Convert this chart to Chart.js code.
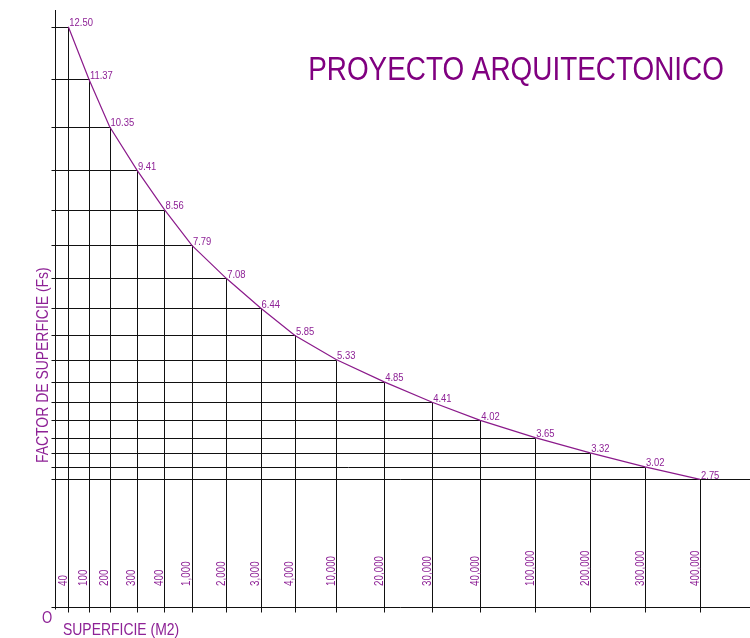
<!DOCTYPE html>
<html><head><meta charset="utf-8">
<script src="https://cdn.jsdelivr.net/npm/chart.js@4.4.1/dist/chart.umd.min.js"></script>
<style>html,body{margin:0;padding:0;background:#fff;overflow:hidden}#wrap{width:750px;height:638px;position:relative}canvas{display:block}</style>
</head><body><div id="wrap"><canvas id="c" width="750" height="638"></canvas></div>
<script>
// ---- data ----
const areaLabels = ['40','100','200','300','400','1,000','2,000','3,000','4,000','10,000','20,000','30,000','40,000','100,000','200,000','300,000','400,000'];
const areaValues = [40,100,200,300,400,1000,2000,3000,4000,10000,20000,30000,40000,100000,200000,300000,400000];
const factorValues = [12.50,11.37,10.35,9.41,8.56,7.79,7.08,6.44,5.85,5.33,4.85,4.41,4.02,3.65,3.32,3.02,2.75];
// abscissa of each surface column along the drawn (non-proportional) horizontal axis, in axis units
const columnPos = [2,5,8,12,16,20,25,30,35,41,48,55,62,70,78,86,94];
const titleText = 'PROYECTO ARQUITECTONICO';
const xAxisTitle = 'SUPERFICIE (M2)';
const yAxisTitle = 'FACTOR DE SUPERFICIE (Fs)';
const originLabel = 'O';

const FONT = '"Liberation Sans",Arial,sans-serif';
const SQUEEZE = 0.82; // narrow lettering like the reference
const PURPLE = '#800080';
const LABEL_PURPLE = '#8e2296';

// draw condensed text; (x,y) is the anchor, rot in radians
function narrowText(ctx, text, x, y, size, color, align, rot) {
  ctx.save();
  ctx.translate(x, y);
  if (rot) ctx.rotate(rot);
  ctx.scale(SQUEEZE, 1);
  ctx.font = size + 'px ' + FONT;
  ctx.fillStyle = color;
  ctx.textAlign = align || 'left';
  ctx.textBaseline = 'alphabetic';
  ctx.fillText(text, 0, 0);
  ctx.restore();
}

const nomogram = {
  id: 'nomogram',
  beforeDatasetsDraw(chart) {
    const ctx = chart.ctx, xs = chart.scales.x, ys = chart.scales.y, a = chart.chartArea;
    const L = Math.round(a.left) + 0.5, B = Math.round(a.bottom) + 0.5, T = a.top, R = chart.width;
    ctx.save();
    ctx.strokeStyle = '#111';
    ctx.lineWidth = 1;
    ctx.beginPath();
    const last = factorValues.length - 1;
    factorValues.forEach((v, i) => {
      const px = Math.round(xs.getPixelForValue(columnPos[i])) + 0.5;
      const py = Math.round(ys.getPixelForValue(v)) + 0.5;
      ctx.moveTo(px, py); ctx.lineTo(px, B + 5);
      ctx.moveTo(L - 4, py); ctx.lineTo(i === last ? R : px, py);
    });
    ctx.moveTo(L, T); ctx.lineTo(L, B + 2);
    ctx.moveTo(L - 4, B); ctx.lineTo(R, B);
    ctx.stroke();
    ctx.restore();
    // rotated surface labels
    areaLabels.forEach((lab, i) => {
      const px = xs.getPixelForValue(columnPos[i]);
      narrowText(ctx, lab, px - 1.5, a.bottom - 21, 12, LABEL_PURPLE, 'left', -Math.PI / 2);
    });
  },
  afterDatasetsDraw(chart) {
    const ctx = chart.ctx, xs = chart.scales.x, ys = chart.scales.y;
    factorValues.forEach((v, i) => {
      const px = xs.getPixelForValue(columnPos[i]);
      const py = ys.getPixelForValue(v);
      narrowText(ctx, v.toFixed(2), px + 1, py - 0.5, 11.5, LABEL_PURPLE, 'left', 0);
    });
    narrowText(ctx, titleText, 516, 80, 34, PURPLE, 'center', 0);
    narrowText(ctx, xAxisTitle, 63, 635, 17, LABEL_PURPLE, 'left', 0);
    narrowText(ctx, originLabel, 42, 623, 16, LABEL_PURPLE, 'left', 0);
    narrowText(ctx, yAxisTitle, 48, 463, 17, LABEL_PURPLE, 'left', -Math.PI / 2);
  }
};

new Chart(document.getElementById('c'), {
  type: 'line',
  data: {
    labels: areaLabels,
    datasets: [{
      label: 'Fs',
      data: columnPos.map((x, i) => ({ x: x, y: factorValues[i], area: areaValues[i] })),
      borderColor: '#8b1a8b',
      borderWidth: 1.2,
      pointRadius: 0,
      pointHoverRadius: 0,
      tension: 0,
      fill: false,
      clip: false
    }]
  },
  options: {
    responsive: false,
    animation: false,
    devicePixelRatio: 1,
    layout: { padding: { left: 54.6, top: 10, right: 0, bottom: 31 } },
    plugins: { legend: { display: false }, title: { display: false }, tooltip: { enabled: false } },
    scales: {
      x: { type: 'linear', min: 0, max: 101.28, display: false },
      y: { type: 'linear', min: 0, max: 12.86, display: false }
    }
  },
  plugins: [nomogram]
});
</script>
</body></html>
